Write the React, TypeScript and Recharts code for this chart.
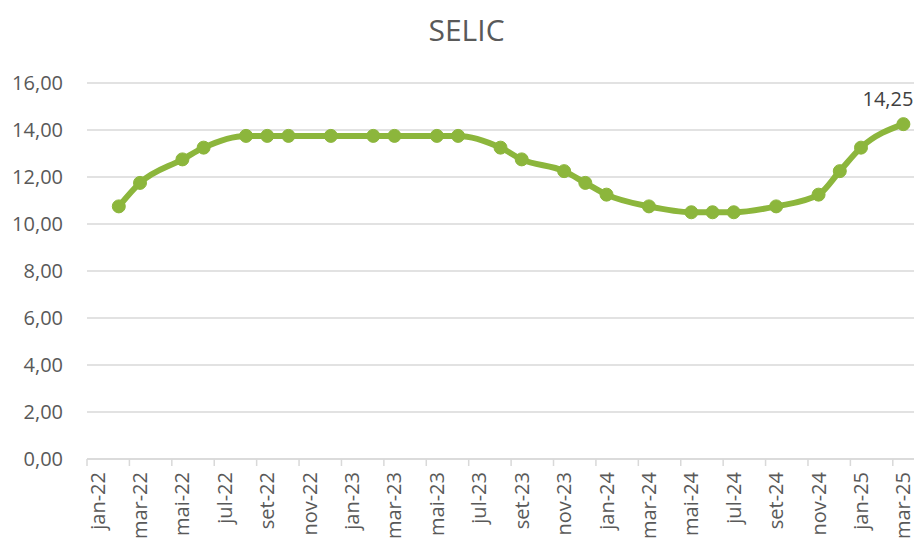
import { LineChart, Line, XAxis, YAxis, CartesianGrid, LabelList } from "recharts";

// meses das reuniões do Copom e taxa definida (% a.a.)
const meetings = [
  "fev-22", "mar-22", "mai-22", "jun-22", "ago-22", "set-22", "out-22", "dez-22",
  "fev-23", "mar-23", "mai-23", "jun-23", "ago-23", "set-23", "nov-23", "dez-23",
  "jan-24", "mar-24", "mai-24", "jun-24", "jul-24", "set-24", "nov-24", "dez-24",
  "jan-25", "mar-25",
];
const selic = [
  10.75, 11.75, 12.75, 13.25, 13.75, 13.75, 13.75, 13.75,
  13.75, 13.75, 13.75, 13.75, 13.25, 12.75, 12.25, 11.75,
  11.25, 10.75, 10.5, 10.5, 10.5, 10.75, 11.25, 12.25,
  13.25, 14.25,
];
const monthNames = ["jan", "fev", "mar", "abr", "mai", "jun", "jul", "ago", "set", "out", "nov", "dez"];
const xTicks = [0, 2, 4, 6, 8, 10, 12, 14, 16, 18, 20, 22, 24, 26, 28, 30, 32, 34, 36, 38];
const yTicks = [0, 2, 4, 6, 8, 10, 12, 14, 16];

const monthIndex = (label: string) => {
  const [m, y] = label.split("-");
  return (Number(y) - 22) * 12 + monthNames.indexOf(m);
};
const monthLabel = (i: number) => `${monthNames[i % 12]}-${22 + Math.floor(i / 12)}`;

const data = meetings.map((m, i) => ({ x: monthIndex(m), selic: selic[i] }));

const WIDTH = 917;
const HEIGHT = 541;
const Y_AXIS_W = 87;
const RIGHT = 3;
const X_MIN = -0.5;
const X_MAX = 38.5;
const HALF_STEP = (WIDTH - Y_AXIS_W - RIGHT) / (X_MAX - X_MIN) / 2;
const FONT = "'Open Sans', sans-serif";

const MonthTick = (props: any) => {
  const { x, y, payload } = props;
  const axisY = y - 13;
  return (
    <g>
      <line x1={x - HALF_STEP} x2={x - HALF_STEP} y1={axisY} y2={axisY + 7} stroke="#d9d9d9" strokeWidth={1.5} />
      <text
        x={x}
        y={y}
        transform={`rotate(-90 ${x} ${y})`}
        textAnchor="end"
        dy="0.35em"
        fill="#595959"
        fontSize={20}
        fontFamily={FONT}
      >
        {monthLabel(payload.value)}
      </text>
    </g>
  );
};

const LastLabel = (props: any) => {
  const { x, y, index, value } = props;
  if (index !== data.length - 1) return null;
  return (
    <text x={x + 10} y={y - 18} textAnchor="end" fill="#404040" fontSize={20} fontFamily={FONT}>
      {value.toFixed(2).replace(".", ",")}
    </text>
  );
};

export default function App() {
  return (
    <div style={{ position: "relative", width: WIDTH, height: HEIGHT, background: "#fff", fontFamily: FONT }}>
      <style>{`body{margin:0}`}</style>
      <div
        style={{
          position: "absolute",
          top: 10,
          left: 8,
          width: WIDTH,
          textAlign: "center",
          fontSize: 30,
          color: "#595959",
          lineHeight: "40px",
        }}
      >
        SELIC
      </div>
      <LineChart width={WIDTH} height={HEIGHT} data={data} margin={{ top: 83, right: RIGHT, left: 0, bottom: 0 }}>
        <CartesianGrid vertical={false} stroke="#d9d9d9" strokeWidth={1.5} />
        <XAxis
          dataKey="x"
          type="number"
          domain={[X_MIN, X_MAX]}
          ticks={xTicks}
          interval={0}
          height={82}
          stroke="#d9d9d9"
          strokeWidth={1.5}
          tickLine={false}
          tickSize={7}
          tickMargin={6}
          tick={<MonthTick />}
        />
        <YAxis
          type="number"
          domain={[0, 16]}
          ticks={yTicks}
          width={Y_AXIS_W}
          axisLine={false}
          tickLine={false}
          tickMargin={18}
          tick={{ fill: "#595959", fontSize: 20, fontFamily: FONT }}
          tickFormatter={(v: number) => v.toFixed(2).replace(".", ",")}
        />
        <Line
          type="monotone"
          dataKey="selic"
          stroke="#8cb63c"
          strokeWidth={6}
          dot={{ r: 6.5, fill: "#8cb63c", stroke: "#8cb63c", strokeWidth: 1 }}
          activeDot={false}
          isAnimationActive={false}
        >
          <LabelList dataKey="selic" content={<LastLabel />} />
        </Line>
      </LineChart>
    </div>
  );
}
